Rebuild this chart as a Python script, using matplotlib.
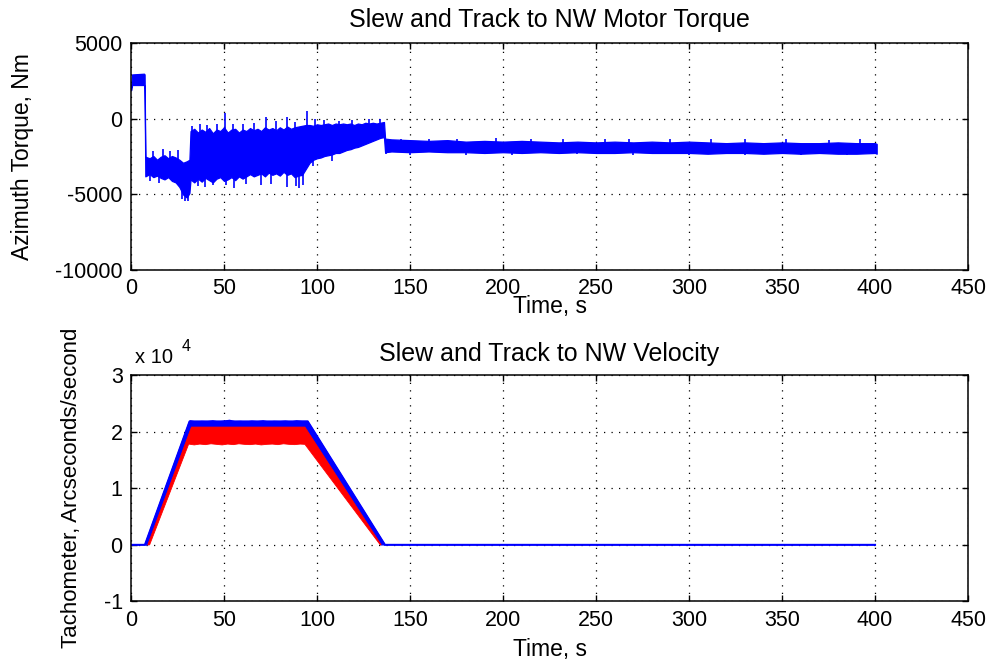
import numpy as np
import matplotlib
matplotlib.use("Agg")
import matplotlib.pyplot as plt

plt.rcParams.update({"font.family": "Liberation Sans", "axes.unicode_minus": False})

# ---- motor torque (Nm): upper / lower envelope of the noisy trace ----
TQ_T = [0, 0.6, 7.0, 7.3,
        7.7, 10, 12, 14, 16, 18, 20, 22, 24, 26, 28, 30, 31.4,
        32, 34, 36, 38, 40, 42, 44, 46, 48, 50, 52, 54, 56, 58, 60, 62, 64, 66, 68, 70, 72, 74, 76, 78, 80,
        82, 84, 86, 88, 90, 92, 94,
        96, 98, 100, 102, 104, 106, 108, 110, 112, 114, 116, 118, 120, 122, 124, 126, 128, 130, 132, 134, 136,
        136.6, 140, 150, 160, 170, 180, 190, 200, 210, 220, 230, 240, 250, 260, 270, 280, 290, 300, 310, 320,
        330, 340, 350, 360, 370, 380, 390, 400, 400.9]
TQ_HI = [2100, 2950, 3000, 2950,
         -2500, -2600, -2450, -2700, -2500, -2400, -2600, -2450, -2550, -2700, -2900, -2800, -2700,
         -800, -650, -900, -700, -850, -600, -950, -700, -800, -550, -900, -700, -650, -900, -700, -800, -600,
         -750, -650, -800, -550, -700, -600, -750, -550, -700, -500, -650, -550, -500, -450, -400,
         -400, -450, -350, -400, -350, -300, -400, -300, -350, -300, -350, -300, -400, -300, -350, -250, -300,
         -250, -300, -250, -200,
         -1300, -1350, -1400, -1450, -1400, -1500, -1450, -1500, -1450, -1500, -1550, -1500, -1550, -1500,
         -1550, -1500, -1550, -1500, -1550, -1600, -1550, -1600, -1550, -1600, -1600, -1550, -1600, -1600, -1650]
TQ_LO = [1900, 2250, 2250, 2000,
         -3800, -3650, -3850, -3750, -3900, -4000, -3850, -4100, -4200, -4500, -5000, -5200, -4900,
         -4000, -4200, -3950, -4150, -3900, -4050, -4200, -3950, -3850, -4100, -4000, -3850, -4050, -3800,
         -3950, -3800, -3650, -3800, -3700, -3600, -3800, -3550, -3700, -3600, -3750, -3500, -3700, -3600,
         -3850, -3750, -3700, -3300,
         -2900, -2700, -2600, -2550, -2450, -2400, -2350, -2250, -2250, -2150, -2050, -2000, -1900, -1850,
         -1750, -1650, -1550, -1450, -1350, -1250, -1200,
         -2200, -2150, -2200, -2150, -2200, -2200, -2250, -2200, -2250, -2200, -2250, -2200, -2250, -2250,
         -2200, -2250, -2250, -2250, -2300, -2250, -2250, -2300, -2250, -2300, -2250, -2300, -2300, -2250, -2300]
# isolated spikes sticking out of the band (time s, tip value Nm)
SPK_T = [12, 17, 21, 25, 33, 37, 41, 46, 50.4, 55, 60, 66, 72.6, 78, 83.7, 88, 94.4, 99, 104, 112, 119, 128,
         134, 145, 160, 175, 196, 215, 232, 255, 268, 290, 312, 330, 352, 375, 392,
         10, 15, 27.5, 29, 30.5, 36, 40, 44, 51, 55.5, 62, 70, 75, 83.9, 88.5, 90.5, 92.5, 98, 108, 137.2,
         150, 180, 205, 240, 270, 300, 330, 360, 385]
SPK_V = [-2100, -2000, -2150, -2050, -450, -350, -400, -300, 400, -350, -300, -250, 150, -150, 100, -200, 500,
         0, -50, -100, -50, 0, 0, -1300, -1300, -1350, -1250, -1300, -1350, -1300, -1350, -1350, -1350, -1300,
         -1350, -1400, -1350,
         -4100, -4250, -5300, -5450, -5400, -4450, -4500, -4350, -4400, -4600, -4300, -4400, -4300, -4500,
         -4450, -4600, -4350, -3100, -2800, -2300, -2400, -2380, -2400, -2350, -2400, -2380, -2400, -2400, -2380]

# ---- tachometer velocity (arcsec/s) ----
VEL_T = [0, 7.5, 31.5, 95, 136.5, 400]
VEL = [0, 0, 21800, 21800, 0, 0]
BT_T = [32, 35, 38, 41, 44, 47, 50, 53, 56, 59, 62, 65, 68, 71, 74, 77, 80, 83, 86, 89, 92]       # blue plateau top
BT_V = [21900, 21700, 21800, 21750, 21900, 21700, 21850, 22000, 21750, 21800, 21700, 21850, 21750, 21900,
        21700, 21800, 21750, 21850, 21700, 21900, 21800]
BL_T = [9.0, 32.5, 93.5, 134.5]                                                                     # blue lower edge
BL_V = [0, 20800, 20800, 0]
RB_T = [10.0, 31, 34, 37, 40, 43, 46, 49, 52, 55, 58, 61, 64, 67, 70, 73, 76, 79, 82, 85, 88, 91, 93.5, 134.0]
RB_V = [0, 17800, 17650, 17800, 17700, 17850, 17750, 17650, 17800, 17700, 17850, 17750, 17700, 17800, 17650,
        17750, 17800, 17700, 17850, 17750, 17700, 17800, 17750, 0]                                  # red lower edge

BLUE, RED = "#0000FF", "#FF0000"
fig = plt.figure(figsize=(9.91, 6.65), dpi=100)
axT = fig.add_axes([0.1322, 0.594, 0.8446, 0.3406])
axB = fig.add_axes([0.1322, 0.0955, 0.8446, 0.3406])

def style(ax, lpad):
    ax.set_xlim(0, 450); ax.set_xticks(np.arange(0, 451, 50))
    ax.set_axisbelow(True)
    ax.grid(True, color="k", linestyle=(0, (1, 5)), linewidth=0.9)
    ax.tick_params(direction="in", top=True, right=True, length=4, width=1, labelsize=15.5, pad=6)
    for s in ax.spines.values(): s.set_linewidth(1.1)
    ax.set_xlabel("Time, s", fontsize=16.5, labelpad=lpad)

# top: torque band + spikes
t = np.array(TQ_T); hi = np.array(TQ_HI); lo = np.array(TQ_LO)
axT.fill_between(t, lo, hi, color=BLUE, lw=0.9, edgecolor=BLUE)
mid = np.interp(SPK_T, t, (hi + lo) / 2)
axT.vlines(SPK_T, mid, SPK_V, color=BLUE, lw=1.2)
axT.set_ylim(-10000, 5000); axT.set_yticks([-10000, -5000, 0, 5000])
style(axT, -3)
axT.set_ylabel("Azimuth Torque, Nm", fontsize=16.5)
axT.yaxis.set_label_coords(-0.116, 0.5)
axT.set_title("Slew and Track to NW Motor Torque", fontsize=18, pad=12)

# bottom: velocity (blue tach band, red band on top)
sc = 1e4
bx = [7.5, 31.5] + BT_T + [95, 136.5] + BL_T[::-1]
by = [0, 21800] + BT_V + [21800, 0] + BL_V[::-1]
axB.plot(VEL_T, np.array(VEL) / sc, color=BLUE, lw=1.5)
axB.fill(bx, np.array(by) / sc, color=BLUE, lw=0.9)
rx = BL_T + RB_T[::-1]; ry = BL_V + RB_V[::-1]
axB.fill(rx, np.array(ry) / sc, color=RED, lw=0.6)
axB.set_ylim(-1, 3); axB.set_yticks([-1, 0, 1, 2, 3])
style(axB, 5)
axB.set_ylabel("Tachometer, Arcseconds/second", fontsize=16)
axB.yaxis.set_label_coords(-0.058, 0.5)
axB.set_title("Slew and Track to NW Velocity", fontsize=18, pad=10)
fig.text(0.136, 0.454, "x 10", fontsize=14.5)
fig.text(0.183, 0.472, "4", fontsize=11.5)

fig.savefig("out.png", dpi=100)
